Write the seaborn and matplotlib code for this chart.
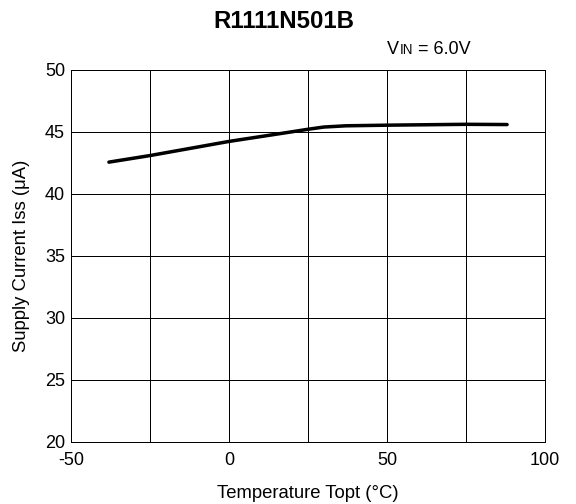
import matplotlib
matplotlib.use("Agg")
import matplotlib.pyplot as plt
import seaborn as sns
import pandas as pd

temperature = [-38, -25, 0, 20, 25, 30, 37, 50, 75, 88]
supply_current = [42.57, 43.1, 44.24, 45.02, 45.22, 45.4, 45.5, 45.55, 45.62, 45.6]
x_ticks = [-50, 0, 50, 100]
y_ticks = [20, 25, 30, 35, 40, 45, 50]

sns.set_theme(style="white")
plt.rcParams['font.family'] = ['Liberation Sans', 'DejaVu Sans']
plt.rcParams['axes.unicode_minus'] = False
plt.rcParams['text.color'] = 'black'

df = pd.DataFrame({"T": temperature, "I": supply_current})

fig = plt.figure(figsize=(8, 7), dpi=72)
ax = fig.add_axes([71 / 576, 1 - 442 / 504, 474 / 576, 372 / 504])
sns.lineplot(data=df, x="T", y="I", ax=ax, color="black", linewidth=3.5, sort=False)

ax.set_xlim(-50, 100)
ax.set_ylim(20, 50)
ax.set_xticks(x_ticks)
ax.set_xticks([-25, 25, 75], minor=True)
ax.set_yticks(y_ticks)
ax.grid(True, which="both", color="black", linewidth=1)
ax.tick_params(axis="both", which="both", length=0, labelsize=18, colors="black")
ax.tick_params(axis="x", pad=10)
ax.tick_params(axis="y", pad=6)
for s in ax.spines.values():
    s.set_color("black")
    s.set_linewidth(1)
ax.set_xlabel("Temperature Topt (°C)", fontsize=18.5, color="black", labelpad=16)
ax.set_ylabel("Supply Current Iss (μA)", fontsize=18.5, color="black", labelpad=15)

fig.text(284 / 576, 1 - 22 / 504, "R1111N501B", fontsize=24, fontweight="bold",
         ha="center", va="center", color="black")
# V_IN annotation
base_y = 1 - 54 / 504
fig.text(387 / 576, base_y, "V", fontsize=18, ha="left", va="baseline")
fig.text(400 / 576, base_y, "IN", fontsize=13.5, ha="left", va="baseline")
fig.text(418 / 576, base_y, "= 6.0V", fontsize=18, ha="left", va="baseline")

fig.savefig("out.png", dpi=72)
